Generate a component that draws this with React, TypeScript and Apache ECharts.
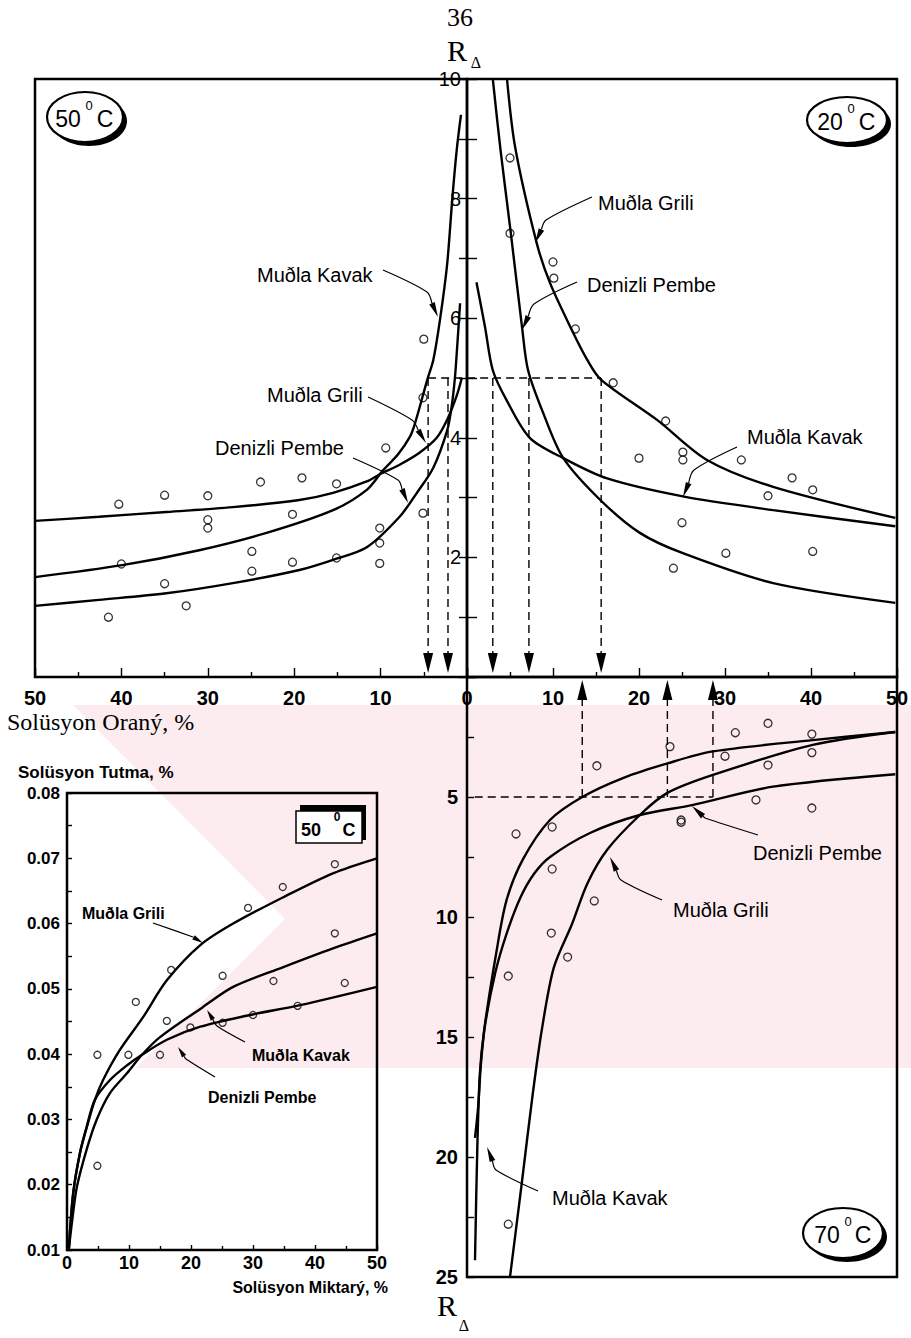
import React, { useEffect, useRef } from "react";
import * as echarts from "echarts";

const SANS = "'Liberation Sans', Arial, Helvetica, sans-serif";
const SERIF = "'Liberation Serif', 'Times New Roman', Times, serif";

// ---------- tick labels ----------
const ratioTicks = [0, 10, 20, 30, 40, 50];
const rTopTicks = [0, 2, 4, 6, 8, 10];
const rBottomTicks = [0, 5, 10, 15, 20, 25];
const retentionTicks = [0.01, 0.02, 0.03, 0.04, 0.05, 0.06, 0.07, 0.08];
const amountTicks = [0, 10, 20, 30, 40, 50];

// ---------- 50 °C (upper left): R_Δ vs solution ratio ----------
const grili50 = [[0.6, 5.0], [1.2, 4.7], [2.3, 4.3], [3.5, 4.0], [5.5, 3.75], [7.8, 3.55], [10.1, 3.39], [11.6, 3.27], [15.5, 3.08], [19.4, 2.96], [27.1, 2.84], [34.8, 2.76], [42.6, 2.68], [50, 2.61]];
const kavak50 = [[0.7, 9.4], [1.2, 8.8], [1.7, 8.0], [2.3, 6.9], [3.1, 6.0], [3.9, 5.3], [4.6, 4.97], [6.0, 4.25], [6.6, 4.02], [8.0, 3.72], [9.7, 3.46], [11.6, 3.13], [15.5, 2.79], [23.2, 2.41], [31.0, 2.12], [39.9, 1.87], [50, 1.67]];
const denizli50 = [[0.8, 6.25], [1.1, 5.6], [1.4, 5.0], [1.8, 4.5], [2.3, 4.12], [3.9, 3.5], [5.8, 3.08], [7.8, 2.68], [11.6, 2.17], [15.5, 1.96], [19.4, 1.79], [27.1, 1.57], [34.8, 1.4], [42.6, 1.29], [50, 1.19]];
const points50 = [[40.3, 2.89], [35.0, 3.04], [30.0, 3.03], [23.9, 3.26], [19.1, 3.33], [15.1, 3.23], [9.4, 3.83], [5.1, 4.67], [30.0, 2.63], [30.0, 2.49], [20.2, 2.72], [5.1, 2.74], [10.1, 2.49], [10.1, 2.24], [10.1, 1.9], [24.9, 2.1], [24.9, 1.77], [20.2, 1.92], [15.1, 1.99], [40.0, 1.89], [35.0, 1.56], [32.5, 1.19], [41.5, 1.0], [5.0, 5.65]];

// ---------- 20 °C (upper right) ----------
const grili20 = [[4.65, 10], [5.6, 8.86], [8.1, 7.26], [9.65, 6.59], [12.2, 5.8], [14.0, 5.3], [15.6, 4.97], [22.1, 4.3], [27.9, 3.63], [35.6, 3.18], [49.8, 2.66]];
const denizli20 = [[3.0, 10], [3.9, 8.81], [5.1, 7.42], [6.4, 5.85], [7.1, 5.13], [8.9, 4.4], [11.2, 3.66], [15.5, 2.96], [20.1, 2.41], [25.1, 2.07], [35.6, 1.57], [49.8, 1.24]];
const kavak20 = [[1.1, 6.6], [2.1, 5.85], [3.0, 5.13], [4.6, 4.63], [7.3, 4.0], [11.2, 3.66], [16.3, 3.32], [25.1, 3.02], [35.6, 2.79], [49.8, 2.52]];
const points20 = [[5.0, 8.68], [5.0, 7.42], [10.0, 6.94], [10.1, 6.67], [12.6, 5.82], [17.0, 4.92], [23.1, 4.28], [20.0, 3.66], [25.1, 3.76], [25.1, 3.63], [31.9, 3.63], [37.8, 3.33], [40.2, 3.13], [35.0, 3.03], [25.0, 2.58], [30.1, 2.07], [40.2, 2.1], [24.0, 1.82]];

// ---------- 70 °C (lower right), R_Δ downward ----------
const kavak70 = [[0.93, 24.3], [1.2, 19.6], [1.5, 16.5], [2.0, 14.7], [3.4, 11.5], [4.6, 9.3], [6.5, 7.6], [9.65, 5.96], [13.4, 5.0], [18.2, 4.2], [23.3, 3.6], [28.6, 3.1], [40.2, 2.63], [49.8, 2.29]];
const grili70 = [[5.0, 25], [6.4, 21], [7.6, 17.5], [8.7, 14.7], [10.1, 12.1], [12.2, 10.3], [14.0, 8.6], [16.3, 7.2], [20.1, 5.75], [23.3, 4.83], [28.6, 4.08], [40.2, 2.83], [49.8, 2.29]];
const denizli70 = [[0.93, 19.2], [1.3, 17.9], [1.6, 16.2], [2.1, 14.5], [3.3, 12.3], [4.6, 10.7], [6.2, 9.2], [7.8, 8.2], [9.65, 7.5], [14.3, 6.5], [20.1, 5.75], [26.3, 5.33], [35.6, 4.57], [49.8, 4.05]];
const points70 = [[35.0, 1.93], [31.2, 2.32], [40.1, 2.38], [23.6, 2.9], [30.0, 3.3], [40.1, 3.15], [35.0, 3.67], [15.1, 3.7], [33.6, 5.12], [40.1, 5.46], [24.9, 5.96], [24.9, 6.05], [9.9, 6.25], [5.7, 6.54], [9.9, 8.0], [14.8, 9.33], [9.8, 10.67], [11.7, 11.67], [4.8, 12.46], [4.8, 22.8]];

// ---------- 50 °C solution retention (lower left) ----------
const griliRet = [[0.3, 0.0102], [1.0, 0.0187], [2.1, 0.0249], [3.2, 0.0288], [4.5, 0.033], [5.8, 0.036], [8.5, 0.0406], [12.3, 0.0457], [16.1, 0.0513], [21.5, 0.0567], [26.8, 0.060], [34.8, 0.064], [42.9, 0.0677], [50, 0.070]];
const denizliRet = [[0.3, 0.0102], [1.0, 0.0187], [2.1, 0.0249], [3.2, 0.029], [4.5, 0.033], [6.9, 0.036], [9.7, 0.0383], [12.1, 0.0399], [16.1, 0.0422], [21.5, 0.0442], [29.5, 0.046], [37.6, 0.0475], [50, 0.0503]];
const kavakRet = [[0.3, 0.0102], [0.9, 0.015], [1.6, 0.0197], [3.2, 0.0255], [4.8, 0.03], [6.9, 0.034], [9.7, 0.0371], [12.1, 0.0399], [15.0, 0.0426], [21.9, 0.0472], [26.8, 0.0503], [34.8, 0.0533], [42.9, 0.0562], [50, 0.0585]];
const pointsRet = [[43.2, 0.0691], [34.8, 0.0656], [29.2, 0.0624], [16.8, 0.0529], [11.1, 0.048], [43.2, 0.0585], [25.1, 0.052], [33.3, 0.0512], [44.8, 0.0509], [37.2, 0.0474], [16.1, 0.0451], [19.9, 0.0441], [25.1, 0.0448], [30.0, 0.046], [9.9, 0.0399], [15.0, 0.0399], [4.9, 0.0399], [4.9, 0.0229]];

// ---------- reading guides (dashed) ----------
const guideTopLeftX = [4.5, 2.2];
const guideTopRightX = [3.0, 7.2, 15.6];
const guideTopLevel = 5;
const guideBottomX = [13.4, 23.3, 28.6];
const guideBottomLevel = 5;
const guideBottomFromX = 0.9;

const lastOf = (a: number[]) => a[a.length - 1];

function curve(data: number[][], g: number) {
  return {
    type: "line", xAxisIndex: g, yAxisIndex: g, data,
    showSymbol: false, smooth: 0.3, silent: true, z: 3,
    lineStyle: { color: "#000", width: 2.4 },
  };
}
function dots(data: number[][], g: number, size: number) {
  return {
    type: "scatter", xAxisIndex: g, yAxisIndex: g, data, symbol: "circle",
    symbolSize: size, silent: true, z: 4,
    itemStyle: { color: "rgba(255,255,255,0)", borderColor: "#000", borderWidth: 1.3 },
  };
}

const tickStyle = { color: "#000", width: 1.4 };

function buildOption(): any {
  const gridBase = { show: true, borderColor: "#000", borderWidth: 2.5, backgroundColor: "transparent", containLabel: false, outerBoundsMode: "none" };
  return {
    animation: false,
    grid: [
      { ...gridBase, left: 35, top: 79, width: 432, height: 598 },
      { ...gridBase, left: 467, top: 79, width: 430, height: 598 },
      { ...gridBase, left: 467, top: 677, width: 430, height: 600 },
      { ...gridBase, left: 67, top: 793, width: 310, height: 457 },
    ],
    xAxis: [
      {
        gridIndex: 0, type: "value", min: ratioTicks[0], max: lastOf(ratioTicks), interval: ratioTicks[1] - ratioTicks[0], inverse: true,
        axisLine: { show: false }, splitLine: { show: false },
        axisTick: { inside: true, length: 9, lineStyle: tickStyle },
        minorTick: { show: true, splitNumber: 2, length: 5, lineStyle: tickStyle },
        axisLabel: { margin: 11, fontSize: 20, fontWeight: "bold", fontFamily: SANS, color: "#000" },
      },
      {
        gridIndex: 1, type: "value", min: ratioTicks[0], max: lastOf(ratioTicks), interval: ratioTicks[1] - ratioTicks[0],
        axisLine: { show: false }, splitLine: { show: false },
        axisTick: { inside: true, length: 9, lineStyle: tickStyle },
        minorTick: { show: true, splitNumber: 2, length: 5, lineStyle: tickStyle },
        axisLabel: { margin: 11, fontSize: 20, fontWeight: "bold", fontFamily: SANS, color: "#000", formatter: (v: number) => (v === 0 ? "" : String(v)) },
      },
      {
        gridIndex: 2, type: "value", position: "top", min: ratioTicks[0], max: lastOf(ratioTicks),
        axisLine: { show: false }, splitLine: { show: false }, axisTick: { show: false }, axisLabel: { show: false },
      },
      {
        gridIndex: 3, type: "value", min: amountTicks[0], max: lastOf(amountTicks), interval: amountTicks[1] - amountTicks[0],
        axisLine: { show: false }, splitLine: { show: false },
        axisTick: { inside: true, length: 5, lineStyle: tickStyle },
        minorTick: { show: true, splitNumber: 2, length: 4, lineStyle: tickStyle },
        axisLabel: { margin: 4, fontSize: 18, fontWeight: "bold", fontFamily: SANS, color: "#000" },
      },
    ],
    yAxis: [
      {
        gridIndex: 0, type: "value", position: "right", min: rTopTicks[0], max: lastOf(rTopTicks), interval: 1,
        axisLine: { show: false }, splitLine: { show: false }, axisLabel: { show: false },
        axisTick: { inside: true, length: 8, lineStyle: tickStyle },
      },
      {
        gridIndex: 1, type: "value", position: "left", min: rTopTicks[0], max: lastOf(rTopTicks), interval: 1,
        axisLine: { show: false }, splitLine: { show: false },
        axisTick: { inside: true, length: 10, lineStyle: tickStyle },
        axisLabel: {
          margin: 6, fontSize: 20, fontFamily: SANS, color: "#000", showMaxLabel: true,
          formatter: (v: number) => (rTopTicks.indexOf(v) > 0 ? String(v) : ""),
        },
      },
      {
        gridIndex: 2, type: "value", position: "left", inverse: true, min: rBottomTicks[0], max: lastOf(rBottomTicks), interval: rBottomTicks[1] - rBottomTicks[0],
        axisLine: { show: false }, splitLine: { show: false },
        axisTick: { inside: true, length: 7, lineStyle: tickStyle },
        minorTick: { show: true, splitNumber: 2, length: 7, lineStyle: tickStyle },
        axisLabel: { margin: 9, fontSize: 20, fontWeight: "bold", fontFamily: SANS, color: "#000", showMaxLabel: true, formatter: (v: number) => (v === 0 ? "" : String(v)) },
      },
      {
        gridIndex: 3, type: "value", min: retentionTicks[0], max: lastOf(retentionTicks), interval: 0.01,
        axisLine: { show: false }, splitLine: { show: false },
        axisTick: { inside: true, length: 5, lineStyle: tickStyle },
        minorTick: { show: true, splitNumber: 2, length: 5, lineStyle: tickStyle },
        axisLabel: { margin: 7, fontSize: 17, fontWeight: "bold", fontFamily: SANS, color: "#000", showMaxLabel: true, formatter: (v: number) => v.toFixed(2) },
      },
    ],
    series: [
      curve(grili50, 0), curve(kavak50, 0), curve(denizli50, 0), dots(points50, 0, 8),
      curve(grili20, 1), curve(denizli20, 1), curve(kavak20, 1), dots(points20, 1, 8),
      curve(kavak70, 2), curve(grili70, 2), curve(denizli70, 2), dots(points70, 2, 8),
      curve(griliRet, 3), curve(denizliRet, 3), curve(kavakRet, 3), dots(pointsRet, 3, 7),
    ],
  };
}

type Pt = [number, number];

function text(x: number, y: number, t: string, size: number, opts: any = {}) {
  const align = opts.align || "left";
  return {
    type: "text", x, y, z: 100, silent: true,
    style: {
      text: t, fontSize: size, fontFamily: opts.family || SANS, fontWeight: opts.weight || "normal",
      fill: "#000", align, textAlign: align, verticalAlign: "middle", textVerticalAlign: "middle",
    },
  };
}

function pointer(p0: Pt, p1: Pt, tip: Pt, L: number, W: number, lw: number) {
  const dx = tip[0] - p1[0], dy = tip[1] - p1[1];
  const d = Math.hypot(dx, dy);
  const ux = dx / d, uy = dy / d;
  const bx = tip[0] - ux * L, by = tip[1] - uy * L;
  const px = -uy * W / 2, py = ux * W / 2;
  return [
    { type: "polyline", z: 90, silent: true, shape: { points: [p0, p1, [bx, by]], smooth: 0.3 }, style: { stroke: "#000", lineWidth: lw, fill: null } },
    { type: "polygon", z: 90, silent: true, shape: { points: [tip, [bx + px, by + py], [bx - px, by - py]] }, style: { fill: "#000" } },
  ];
}

function badge(cx: number, cy: number, rx: number, ry: number, num: string, numX: number, degX: number, cX: number) {
  return [
    { type: "ellipse", z: 95, silent: true, shape: { cx: cx + 4, cy: cy + 4, rx, ry }, style: { fill: "#000" } },
    { type: "ellipse", z: 96, silent: true, shape: { cx, cy, rx, ry }, style: { fill: "#fff", stroke: "#000", lineWidth: 2.2 } },
    text(numX, cy + 2, num, 23, { align: "center" }),
    text(degX, cy - 12, "0", 13, { align: "center" }),
    text(cX, cy + 2, "C", 23, { align: "center" }),
  ];
}

const labelPointers: { t: string; tx: number; ty: number; p0: Pt; p1: Pt; tip: Pt; small?: boolean }[] = [
  { t: "Muðla Kavak", tx: 257, ty: 275, p0: [383, 270], p1: [427, 292], tip: [438, 317] },
  { t: "Muðla Grili", tx: 267, ty: 395, p0: [368, 397], p1: [412, 420], tip: [426, 443] },
  { t: "Denizli Pembe", tx: 215, ty: 448, p0: [353, 458], p1: [398, 480], tip: [408, 503] },
  { t: "Muðla Grili", tx: 598, ty: 203, p0: [592, 197], p1: [546, 220], tip: [535, 243] },
  { t: "Denizli Pembe", tx: 587, ty: 285, p0: [577, 282], p1: [534, 304], tip: [522, 330] },
  { t: "Muðla Kavak", tx: 747, ty: 437, p0: [737, 447], p1: [694, 470], tip: [683, 497] },
  { t: "Denizli Pembe", tx: 753, ty: 853, p0: [758, 835], p1: [705, 818], tip: [692, 806] },
  { t: "Muðla Grili", tx: 673, ty: 910, p0: [662, 900], p1: [621, 880], tip: [610, 857] },
  { t: "Muðla Kavak", tx: 552, ty: 1198, p0: [538, 1191], p1: [496, 1170], tip: [487, 1147] },
  { t: "Muðla Grili", tx: 82, ty: 913, p0: [153, 923], p1: [193, 937], tip: [203, 943], small: true },
  { t: "Muðla Kavak", tx: 252, ty: 1055, p0: [245, 1042], p1: [217, 1026], tip: [207, 1010], small: true },
  { t: "Denizli Pembe", tx: 208, ty: 1097, p0: [215, 1077], p1: [186, 1059], tip: [178, 1047], small: true },
];

// pale scanned watermark area behind the middle of the page
const watermarkOutline: Pt[] = [[73, 705], [911, 705], [911, 1068], [136, 1068], [285, 919]];

export default function App() {
  const ref = useRef<HTMLDivElement>(null);
  useEffect(() => {
    document.body.style.margin = "0";
    const chart = echarts.init(ref.current as HTMLDivElement, null, { renderer: "svg" });
    chart.setOption(buildOption());

    const P = (g: number, x: number, y: number): Pt => chart.convertToPixel({ gridIndex: g } as any, [x, y]) as any;
    const g: any[] = [];

    g.push({ type: "polygon", z: -10, silent: true, shape: { points: watermarkOutline }, style: { fill: "#fcecef" } });

    // page number and axis titles
    g.push(text(460, 17, "36", 26, { align: "center", family: SERIF }));
    g.push(text(457, 50, "R", 30, { align: "center", family: SERIF }));
    g.push(text(476, 62, "Δ", 16, { align: "center", family: SERIF }));
    g.push(text(447, 1305, "R", 30, { align: "center", family: SERIF }));
    g.push(text(464, 1325, "Δ", 16, { align: "center", family: SERIF }));
    g.push(text(7, 722, "Solüsyon Oraný, %", 24, { family: SERIF }));
    g.push(text(18, 772, "Solüsyon Tutma, %", 17, { weight: "bold" }));
    g.push(text(388, 1287, "Solüsyon Miktarý, %", 16, { weight: "bold", align: "right" }));

    // temperature badges
    g.push(...badge(85, 117, 38, 25, "50", 68, 89, 105));
    g.push(...badge(847, 120, 40, 23, "20", 830, 851, 867));
    g.push(...badge(843, 1233, 40, 25, "70", 827, 848, 863));
    // boxed 50 °C in lower-left panel
    g.push({ type: "rect", z: 95, silent: true, shape: { x: 300, y: 805, width: 66, height: 35 }, style: { fill: "#000" } });
    g.push({ type: "rect", z: 96, silent: true, shape: { x: 296, y: 811, width: 66, height: 32 }, style: { fill: "#fff", stroke: "#000", lineWidth: 1.5 } });
    g.push(text(311, 830, "50", 18, { align: "center", weight: "bold" }));
    g.push(text(337, 817, "0", 12, { align: "center", weight: "bold" }));
    g.push(text(349, 830, "C", 18, { align: "center", weight: "bold" }));

    // curve labels with pointers
    for (const lp of labelPointers) {
      g.push(text(lp.tx, lp.ty, lp.t, lp.small ? 16 : 20, { weight: lp.small ? "bold" : "normal" }));
      g.push(...pointer(lp.p0, lp.p1, lp.tip, lp.small ? 11 : 15, lp.small ? 5 : 6, 1.2));
    }

    // dashed reading guides, upper panels (arrows pointing down)
    const dash = { stroke: "#000", lineWidth: 1.4, lineDash: [8, 5], fill: null };
    const hA = P(0, guideTopLeftX[0], guideTopLevel);
    const hB = P(1, lastOf(guideTopRightX), guideTopLevel);
    g.push({ type: "line", z: 80, silent: true, shape: { x1: hA[0], y1: hA[1], x2: hB[0], y2: hB[1] }, style: dash });
    const downGuides: Pt[][] = [
      ...guideTopLeftX.map((x) => [P(0, x, guideTopLevel), P(0, x, 0)]),
      ...guideTopRightX.map((x) => [P(1, x, guideTopLevel), P(1, x, 0)]),
    ];
    for (const [a, b] of downGuides) {
      const tipY = b[1] - 4;
      g.push({ type: "line", z: 80, silent: true, shape: { x1: a[0], y1: a[1], x2: a[0], y2: tipY - 20 }, style: dash });
      g.push({ type: "polygon", z: 80, silent: true, shape: { points: [[a[0], tipY], [a[0] - 5, tipY - 20], [a[0] + 5, tipY - 20]] }, style: { fill: "#000" } });
    }
    // lower right guides (arrows pointing up)
    const lA = P(2, guideBottomFromX, guideBottomLevel);
    const lB = P(2, lastOf(guideBottomX), guideBottomLevel);
    g.push({ type: "line", z: 80, silent: true, shape: { x1: lA[0], y1: lA[1], x2: lB[0], y2: lB[1] }, style: dash });
    for (const x of guideBottomX) {
      const a = P(2, x, guideBottomLevel);
      const b = P(2, x, 0);
      const tipY = b[1] + 3;
      g.push({ type: "line", z: 80, silent: true, shape: { x1: a[0], y1: a[1], x2: a[0], y2: tipY + 20 }, style: dash });
      g.push({ type: "polygon", z: 80, silent: true, shape: { points: [[a[0], tipY], [a[0] - 5, tipY + 20], [a[0] + 5, tipY + 20]] }, style: { fill: "#000" } });
    }

    chart.setOption({ graphic: g });
    return () => chart.dispose();
  }, []);
  return <div ref={ref} style={{ width: 911, height: 1338 }} />;
}
